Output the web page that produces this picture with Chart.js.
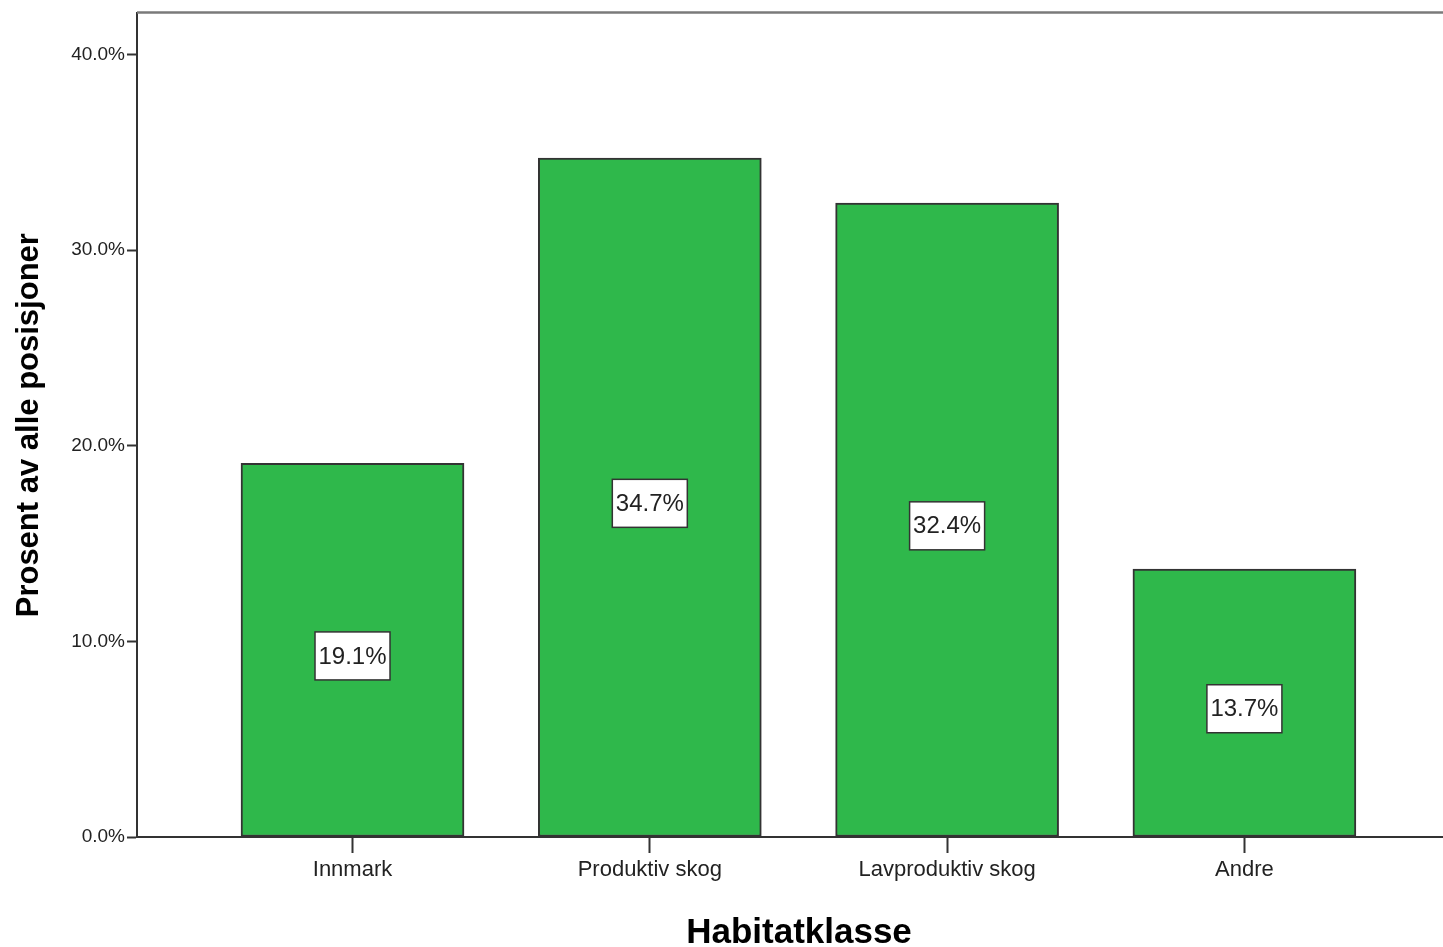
<!DOCTYPE html>
<html>
<head>
<meta charset="utf-8">
<script src="https://cdn.jsdelivr.net/npm/chart.js@4.4.0/dist/chart.umd.min.js"></script>
<style>
html,body{margin:0;padding:0;background:#fff;overflow:hidden;}
#wrap{width:1443px;height:947px;position:relative;}
</style>
</head>
<body>
<div id="wrap"><canvas id="c" width="1443" height="947"></canvas></div>
<script>
const categories = ["Innmark", "Produktiv skog", "Lavproduktiv skog", "Andre"];
const values = [19.1, 34.7, 32.4, 13.7];
const valueLabels = ["19.1%", "34.7%", "32.4%", "13.7%"];
const yTicks = [0, 10, 20, 30, 40];
const yTitle = "Prosent av alle posisjoner";
const xTitle = "Habitatklasse";

const FONT = "'Liberation Sans', Arial, sans-serif";

const labelPlugin = {
  id: 'labels',
  beforeDatasetsDraw(chart) {
    const ctx = chart.ctx;
    const a = chart.chartArea;
    ctx.save();
    ctx.strokeStyle = '#7a7a7a';
    ctx.lineWidth = 2.5;
    ctx.beginPath();
    ctx.moveTo(a.left, a.top - 1);
    ctx.lineTo(a.right, a.top - 1);
    ctx.stroke();
    ctx.restore();
  },
  afterDatasetsDraw(chart) {
    const ctx = chart.ctx;
    const meta = chart.getDatasetMeta(0);
    ctx.save();
    ctx.font = "24px " + FONT;
    ctx.textAlign = 'center';
    ctx.textBaseline = 'middle';
    meta.data.forEach((bar, i) => {
      const cx = bar.x;
      const cy = (bar.y + bar.base) / 2 + 6;
      const w = 75, h = 48;
      ctx.fillStyle = '#ffffff';
      ctx.fillRect(cx - w / 2, cy - h / 2, w, h);
      ctx.strokeStyle = '#333333';
      ctx.lineWidth = 1.5;
      ctx.strokeRect(cx - w / 2, cy - h / 2, w, h);
      ctx.fillStyle = '#222222';
      ctx.fillText(valueLabels[i], cx, cy + 1);
    });
    ctx.restore();
  },
  afterDraw(chart) {
    const ctx = chart.ctx;
    ctx.save();
    ctx.fillStyle = '#000000';
    ctx.font = "bold 35px " + FONT;
    ctx.textAlign = 'center';
    ctx.textBaseline = 'alphabetic';
    ctx.fillText(xTitle, 799, 943);
    ctx.restore();
  }
};

new Chart(document.getElementById('c'), {
  type: 'bar',
  data: {
    datasets: [{
      data: values.map((v, i) => ({ x: i, y: v })),
      backgroundColor: '#2fb84b',
      borderColor: '#333333',
      borderWidth: 2,
      borderSkipped: false,
      barThickness: 223
    }]
  },
  options: {
    responsive: false,
    animation: false,
    devicePixelRatio: 1,
    layout: { padding: { top: 12, right: 0, left: 0, bottom: 0 } },
    plugins: { legend: { display: false }, tooltip: { enabled: false } },
    scales: {
      x: {
        type: 'linear',
        offset: false,
        min: -0.7249,
        max: 3.668,
        afterBuildTicks(scale) { scale.ticks = categories.map((c, i) => ({ value: i })); },
        afterFit(scale) { scale.height = 110; },
        ticks: {
          callback: (v) => categories[v],
          color: '#222222',
          font: { family: FONT, size: 22 },
          padding: 4,
          maxRotation: 0,
          autoSkip: false
        },
        grid: { offset: false, drawOnChartArea: false, drawTicks: true, tickLength: 16, tickColor: '#333333', tickWidth: 2 },
        border: { display: true, color: '#333333', width: 2 }
      },
      y: {
        min: 0,
        max: 42.1,
        afterBuildTicks(scale) { scale.ticks = yTicks.map(v => ({ value: v })); },
        afterFit(scale) { scale.width = 137; },
        ticks: {
          callback: (v) => v.toFixed(1) + '%',
          color: '#222222',
          font: { family: FONT, size: 19 },
          padding: 2
        },
        grid: { drawOnChartArea: false, drawTicks: true, tickLength: 10, tickColor: '#333333', tickWidth: 2 },
        border: { display: true, color: '#333333', width: 2 },
        title: {
          display: true,
          text: yTitle,
          color: '#000000',
          font: { family: FONT, size: 31, weight: 'bold' },
          padding: { top: 11, bottom: 0 }
        }
      }
    }
  },
  plugins: [labelPlugin]
});
</script>
</body>
</html>
